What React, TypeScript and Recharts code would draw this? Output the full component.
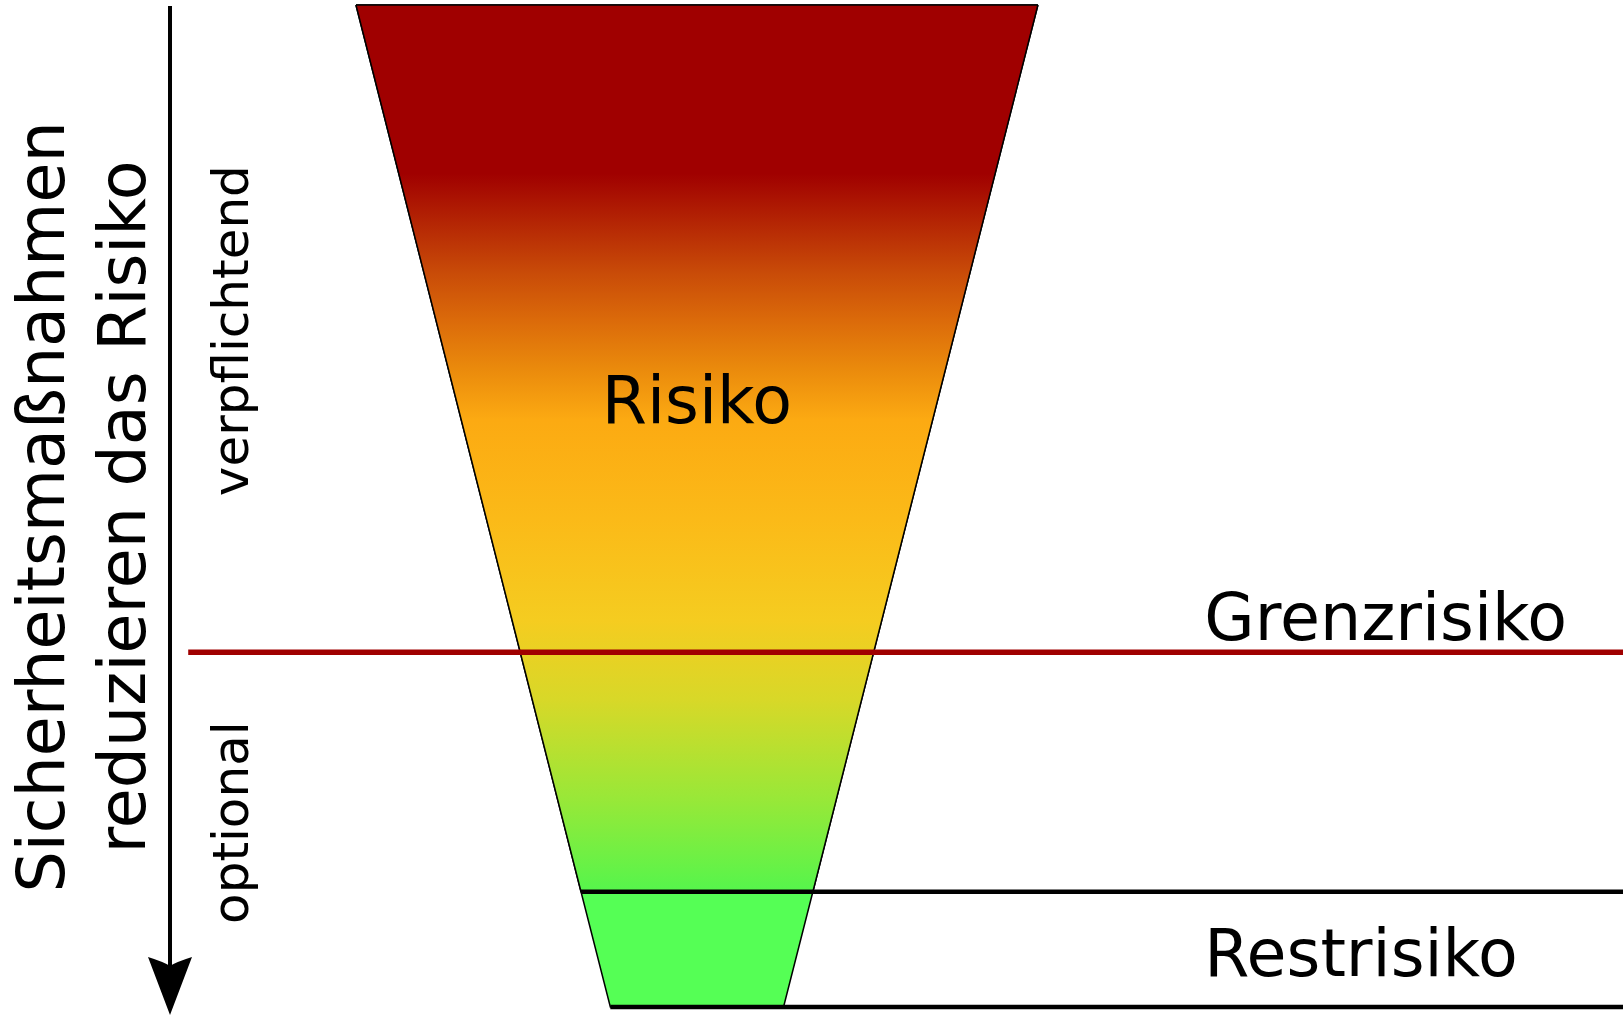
import { ComposedChart, Area, XAxis, YAxis, ReferenceLine, ReferenceDot } from "recharts";

const FONT = "'DejaVu Sans', 'Liberation Sans', sans-serif";

// risk scale: 100 = untreated risk (top of the funnel), 0 = bottom of the funnel
const funnelRisk = [100, 11.5, 0];
const funnelHalfWidth = [50, 17, 12.7];
const grenzRisiko = 35.4;
const restRisiko = 11.5;

const axisTitle = ["Sicherheitsmaßnahmen", "reduzieren das Risiko"];
const zoneLabels = ["verpflichtend", "optional"];
const levelLabels = ["Risiko", "Grenzrisiko", "Restrisiko"];

// outline of the funnel, left to right
const edgeW = [
  -funnelHalfWidth[0],
  -funnelHalfWidth[1],
  -funnelHalfWidth[2],
  funnelHalfWidth[2],
  funnelHalfWidth[1],
  funnelHalfWidth[0],
];
const edgeR = [funnelRisk[0], funnelRisk[1], funnelRisk[2], funnelRisk[2], funnelRisk[1], funnelRisk[0]];

const data = edgeW.map((w, i) => ({
  w,
  funnel: [edgeR[i], funnelRisk[0]],
  upper: [Math.max(edgeR[i], restRisiko), funnelRisk[0]],
}));

const W = 1623;
const H = 1015;
const X_DOMAIN: [number, number] = [-102.2, 135.8];
const Y_DOMAIN: [number, number] = [-0.8, 100.5];

const plainText =
  (text: string, size: number, anchor: "start" | "middle") =>
  (p: any) =>
    (
      <text x={p.cx} y={p.cy} fontSize={size} fontFamily={FONT} fill="#000" textAnchor={anchor}>
        {text}
      </text>
    );

const verticalText =
  (lines: string[], size: number, gap: number) =>
  (p: any) =>
    (
      <text
        x={p.cx}
        y={p.cy}
        fontSize={size}
        fontFamily={FONT}
        fill="#000"
        textAnchor="middle"
        transform={`rotate(-90 ${p.cx} ${p.cy})`}
      >
        {lines.map((l, i) => (
          <tspan key={l} x={p.cx} dy={i === 0 ? 0 : gap}>
            {l}
          </tspan>
        ))}
      </text>
    );

const Arrow = (p: any) => {
  const { x1, y1, x2, y2 } = p;
  return (
    <g>
      <line x1={x1} y1={y1} x2={x2} y2={y2 - 45} stroke="#000" strokeWidth={4} />
      <path
        d={`M ${x2} ${y2} L ${x2 - 22} ${y2 - 58} Q ${x2 - 6} ${y2 - 53} ${x2} ${y2 - 49} Q ${x2 + 6} ${y2 - 53} ${x2 + 22} ${y2 - 58} Z`}
        fill="#000"
      />
    </g>
  );
};

export default function App() {
  return (
    <div style={{ position: "absolute", left: 0, top: 0, width: W, height: H, background: "#fff" }}>
      <ComposedChart width={W} height={H} data={data} margin={{ top: 0, right: 0, bottom: 0, left: 0 }}>
        <defs>
          <linearGradient id="riskGrad" x1="0" y1="0" x2="0" y2="1">
            <stop offset="0" stopColor="#a00000" />
            <stop offset="0.19" stopColor="#a00000" />
            <stop offset="0.3" stopColor="#c84a08" />
            <stop offset="0.355" stopColor="#db6a0a" />
            <stop offset="0.41" stopColor="#ea8a0c" />
            <stop offset="0.468" stopColor="#fcaa12" />
            <stop offset="0.58" stopColor="#fbba18" />
            <stop offset="0.694" stopColor="#f5cc20" />
            <stop offset="0.783" stopColor="#d8d828" />
            <stop offset="0.896" stopColor="#98e838" />
            <stop offset="1" stopColor="#55f54c" />
          </linearGradient>
        </defs>
        <XAxis type="number" dataKey="w" domain={X_DOMAIN} allowDataOverflow hide />
        <YAxis type="number" domain={Y_DOMAIN} allowDataOverflow hide />

        <Area
          dataKey="funnel"
          type="linear"
          fill="#55ff55"
          fillOpacity={1}
          stroke="#000"
          strokeWidth={1.5}
          dot={false}
          activeDot={false}
          isAnimationActive={false}
        />
        <Area
          dataKey="upper"
          type="linear"
          fill="url(#riskGrad)"
          fillOpacity={1}
          stroke="#000"
          strokeWidth={1.5}
          dot={false}
          activeDot={false}
          isAnimationActive={false}
        />

        <ReferenceLine
          segment={[
            { x: -74.6, y: grenzRisiko },
            { x: X_DOMAIN[1], y: grenzRisiko },
          ]}
          stroke="#a00000"
          strokeWidth={5.5}
        />
        <ReferenceLine
          segment={[
            { x: -funnelHalfWidth[1], y: restRisiko },
            { x: X_DOMAIN[1], y: restRisiko },
          ]}
          stroke="#000"
          strokeWidth={4.5}
        />
        <ReferenceLine
          segment={[
            { x: -funnelHalfWidth[2], y: funnelRisk[2] },
            { x: X_DOMAIN[1], y: funnelRisk[2] },
          ]}
          stroke="#000"
          strokeWidth={4.5}
        />
        <ReferenceLine
          segment={[
            { x: -77.27, y: 99.9 },
            { x: -77.27, y: Y_DOMAIN[0] },
          ]}
          shape={Arrow}
        />

        <ReferenceDot x={0} y={58.3} shape={plainText(levelLabels[0], 65, "middle")} />
        <ReferenceDot x={74.4} y={36.6} shape={plainText(levelLabels[1], 65, "start")} />
        <ReferenceDot x={74.4} y={3.1} shape={plainText(levelLabels[2], 65, "start")} />
        <ReferenceDot x={-65.8} y={67.5} shape={verticalText([zoneLabels[0]], 50, 0)} />
        <ReferenceDot x={-65.8} y={18.4} shape={verticalText([zoneLabels[1]], 50, 0)} />
        <ReferenceDot x={-92.8} y={49.9} shape={verticalText(axisTitle, 65, 81)} />
      </ComposedChart>
    </div>
  );
}
